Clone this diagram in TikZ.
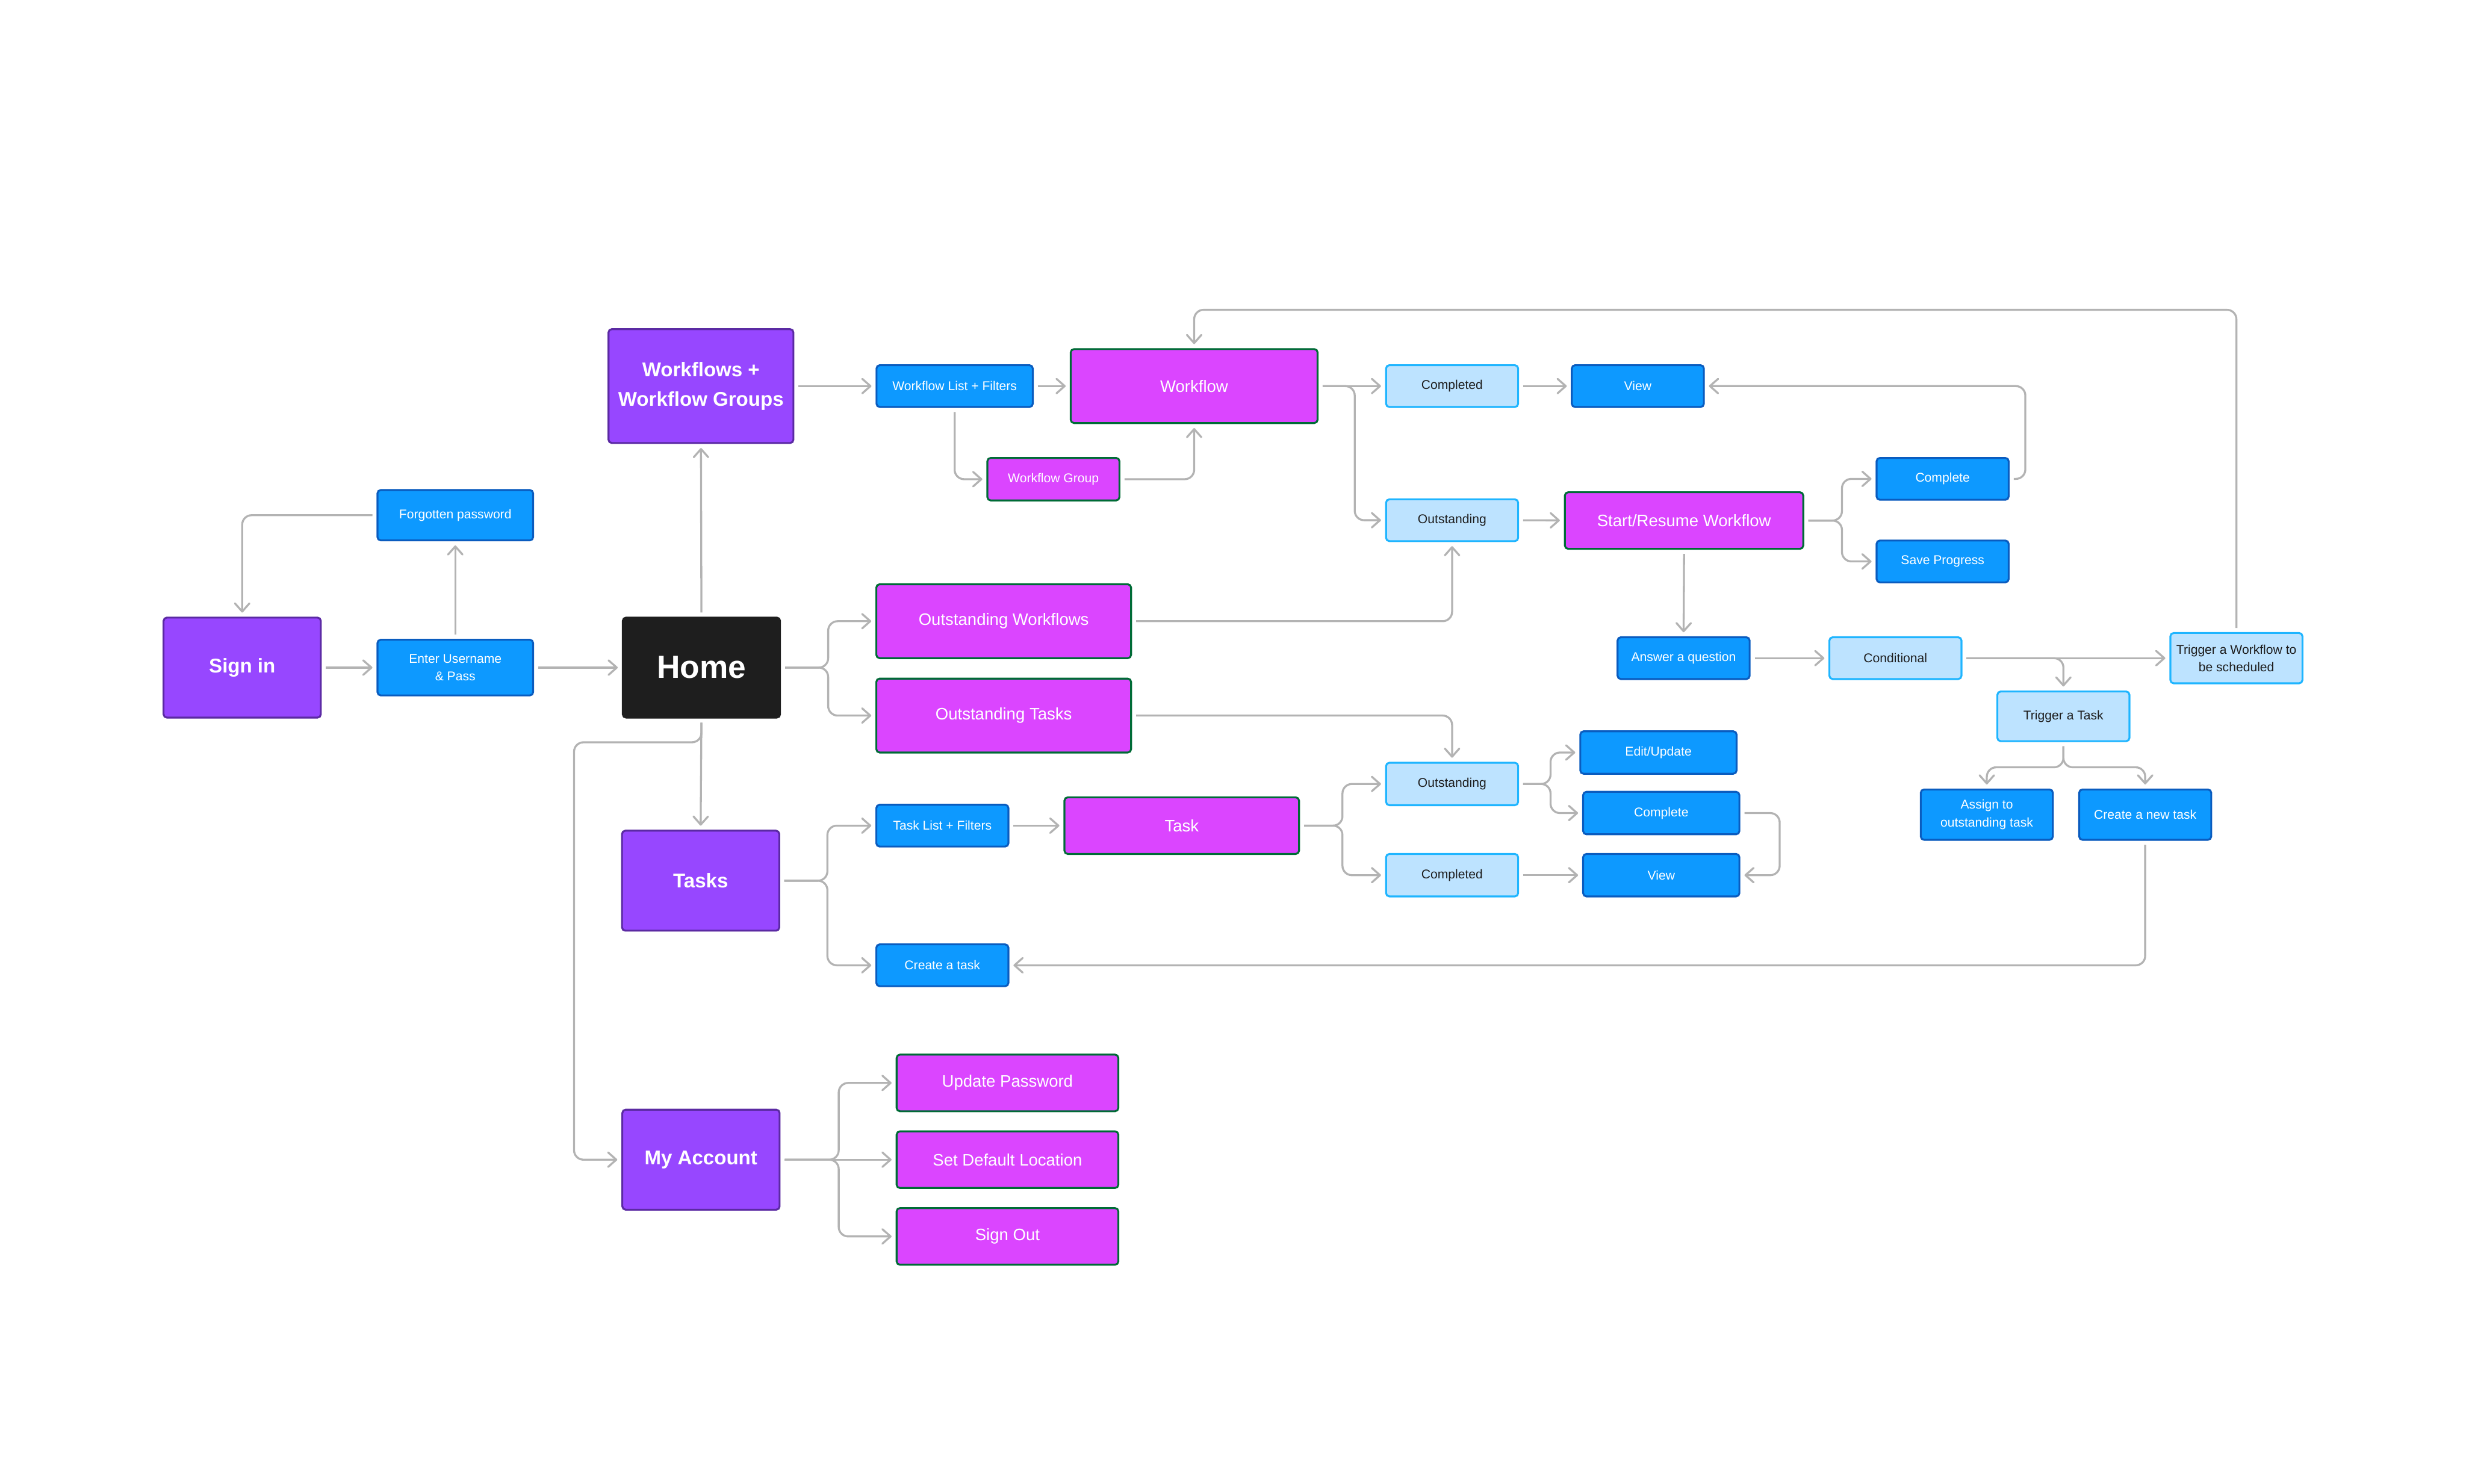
\documentclass[tikz,border=0pt]{standalone}
\usepackage{fontspec}
\setmainfont{Liberation Sans}
\usepackage{tikz}
\usetikzlibrary{arrows.meta,positioning,calc}
\definecolor{hubC}{HTML}{9747FF}
\definecolor{hubD}{HTML}{5B2AA3}
\definecolor{actC}{HTML}{0D99FF}
\definecolor{actD}{HTML}{0A5CBF}
\definecolor{etatC}{HTML}{BDE3FF}
\definecolor{etatD}{HTML}{1FB5FF}
\definecolor{pageC}{HTML}{DB45FF}
\definecolor{pageD}{HTML}{006B36}
\definecolor{noirC}{HTML}{1E1E1E}
\definecolor{lienC}{HTML}{B3B3B3}
\newcommand{\taille}[2]{\fontsize{#1}{#2}\selectfont}
\tikzset{
  boite/.style={rectangle, rounded corners=3pt, line width=1.7pt, align=center, inner sep=0pt},
  hubbox/.style={boite, draw=hubD, fill=hubC, text=white, font=\taille{18}{27}\bfseries,
                 minimum width=5cm, minimum height=3.18cm},
  homebox/.style={boite, draw=noirC, fill=noirC, text=white, font=\taille{29}{34}\bfseries,
                 minimum width=5cm, minimum height=3.18cm},
  pagebox/.style={boite, draw=pageD, fill=pageC, text=white, font=\taille{15}{18},
                 minimum height=1.8cm},
  actionbox/.style={boite, draw=actD, fill=actC, text=white, font=\taille{11.5}{16},
                 minimum width=4.2cm, minimum height=1.33cm},
  etatbox/.style={boite, draw=etatD, fill=etatC, text=noirC, font=\taille{11.5}{16},
                 minimum width=4.2cm, minimum height=1.33cm},
  arr/.style={-{Straight Barb[length=2.6mm, width=4.6mm, round]}, line width=1.8pt, draw=lienC,
              rounded corners=3mm, shorten <=1.3mm, shorten >=1.3mm},
}
\begin{document}
\begin{tikzpicture}[x=0.05cm, y=-0.05cm]
  \fill[white] (0,0) rectangle (1568,943.4);
  \useasboundingbox (0,0) rectangle (1568,943.4);

  % connexion
  \node[hubbox] (signin) at (154,424.5) {Sign in};
  \node[actionbox, minimum width=4.95cm, minimum height=1.77cm] (login) at (289.5,424.5) {Enter Username\\\& Pass};
  \node[actionbox, minimum width=4.95cm, minimum height=1.6cm] (forgot) at (289.5,327.6) {Forgotten password};
  \node[homebox] (home) at (446,424.5) {Home};

  % workflows
  \node[hubbox, minimum width=5.88cm, minimum height=3.62cm] (wfhub) at (445.7,245.5) {Workflows +\\Workflow Groups};
  \node[actionbox, minimum width=4.97cm] (wflist) at (607,245.5) {Workflow List + Filters};
  \node[pagebox, minimum width=7.85cm, minimum height=2.35cm] (workflow) at (759.3,245.5) {Workflow};
  \node[pagebox, font=\taille{11.5}{16}, minimum width=4.2cm, minimum height=1.35cm] (wfgroup) at (669.8,304.7) {Workflow Group};
  \node[etatbox] (wfdone) at (923.3,245.5) {Completed};
  \node[actionbox] (wfview) at (1041.4,245.5) {View};
  \node[etatbox] (wfopen) at (923.3,330.8) {Outstanding};
  \node[pagebox, minimum width=7.58cm] (resume) at (1070.8,331) {Start/Resume Workflow};
  \node[actionbox] (wfcomplete) at (1235.2,304.5) {Complete};
  \node[actionbox] (save) at (1235.2,357) {Save Progress};
  \node[actionbox] (answer) at (1070.5,418.5) {Answer a question};
  \node[etatbox] (cond) at (1205.2,418.5) {Conditional};
  \node[etatbox, minimum height=1.6cm] (trigwf) at (1422,418.5) {Trigger a Workflow to\\be scheduled};
  \node[etatbox, minimum height=1.58cm] (trigtask) at (1312,455.5) {Trigger a Task};
  \node[actionbox, minimum height=1.6cm] (assign) at (1263.3,518) {Assign to\\outstanding task};
  \node[actionbox, minimum height=1.6cm] (newtask) at (1364,518) {Create a new task};
  \coordinate (boucle) at (759.3,197);

  % accueil
  \node[pagebox, minimum width=8.1cm, minimum height=2.35cm] (openwf) at (638.2,395) {Outstanding Workflows};
  \node[pagebox, minimum width=8.1cm, minimum height=2.35cm] (opentask) at (638.2,455) {Outstanding Tasks};

  % taches
  \node[hubbox] (tasks) at (445.5,560) {Tasks};
  \node[actionbox] (tklist) at (599.2,525) {Task List + Filters};
  \node[pagebox, minimum width=7.46cm] (task) at (751.4,525) {Task};
  \node[actionbox] (tkcreate) at (599.2,613.8) {Create a task};
  \node[etatbox, minimum height=1.35cm] (tkopen) at (923.3,498.5) {Outstanding};
  \node[etatbox, minimum height=1.35cm] (tkdone) at (923.3,556.5) {Completed};
  \node[actionbox, minimum width=4.97cm, minimum height=1.35cm] (tkedit) at (1054.5,478.5) {Edit/Update};
  \node[actionbox, minimum width=4.97cm, minimum height=1.35cm] (tkcomplete) at (1056.3,517) {Complete};
  \node[actionbox, minimum width=4.97cm, minimum height=1.35cm] (tkview) at (1056.3,556.5) {View};

  % compte
  \node[hubbox] (account) at (445.7,737.4) {My Account};
  \node[pagebox, minimum width=7.05cm] (setloc) at (640.6,737.4) {Set Default Location};
  \node[pagebox, minimum width=7.05cm, above=0.58cm of setloc] (updpw) {Update Password};
  \node[pagebox, minimum width=7.05cm, below=0.58cm of setloc] (signout) {Sign Out};
  \coordinate (gauche) at (365,472);

  \draw[arr] (signin) -- (login);
  \draw[arr] (login) -- (home);
  \draw[arr] (login.north) -- (forgot.south);
  \draw[arr] (forgot.west) -| (signin.north);
  \draw[arr] (home.north) -- (wfhub.south);
  \draw[arr] (wfhub) -- (wflist);
  \draw[arr] (wflist) -- (workflow);
  \draw[arr] (wflist.south) |- (wfgroup.west);
  \draw[arr] (wfgroup.east) -| (workflow.south);
  \draw[arr] (workflow) -- (wfdone);
  \draw[arr] (workflow.east) -- ++(23,0) |- (wfopen.west);
  \draw[arr] (wfdone) -- (wfview);
  \draw[arr] (wfopen) -- (resume);
  \draw[arr] (resume.east) -- ++(24,0) |- (wfcomplete.west);
  \draw[arr] (resume.east) -- ++(24,0) |- (save.west);
  \draw[arr] (wfcomplete.east) -- ++(10,0) |- (wfview.east);
  \draw[arr] (resume.south) -- (answer.north);
  \draw[arr] (answer) -- (cond);
  \draw[arr] (cond) -- (trigwf);
  \draw[arr] (cond.east) -| (trigtask.north);
  \draw[arr] (trigwf.north) |- (boucle) -- (workflow.north);
  \draw[arr] (trigtask.south) -- ++(0,16) -| (assign.north);
  \draw[arr] (trigtask.south) -- ++(0,16) -| (newtask.north);
  \draw[arr] (newtask.south) |- (tkcreate.east);

  \draw[arr] (home.east) -- ++(30,0) |- (openwf.west);
  \draw[arr] (home.east) -- ++(30,0) |- (opentask.west);
  \draw[arr] (openwf.east) -| (wfopen.south);
  \draw[arr] (opentask.east) -| (tkopen.north);

  \draw[arr] (home.south) -- (tasks.north);
  \draw[arr] (tasks.east) -- ++(30,0) |- (tklist.west);
  \draw[arr] (tasks.east) -- ++(30,0) |- (tkcreate.west);
  \draw[arr] (tklist) -- (task);
  \draw[arr] (task.east) -- ++(27,0) |- (tkopen.west);
  \draw[arr] (task.east) -- ++(27,0) |- (tkdone.west);
  \draw[arr] (tkopen.east) -- ++(20,0) |- (tkedit.west);
  \draw[arr] (tkopen.east) -- ++(20,0) |- (tkcomplete.west);
  \draw[arr] (tkdone) -- (tkview);
  \draw[arr] (tkcomplete.east) -- ++(25,0) |- (tkview.east);

  \draw[arr] (home.south) |- (gauche) |- (account.west);
  \draw[arr] (account.east) -- ++(37,0) |- (updpw.west);
  \draw[arr] (account) -- (setloc);
  \draw[arr] (account.east) -- ++(37,0) |- (signout.west);
\end{tikzpicture}
\end{document}
